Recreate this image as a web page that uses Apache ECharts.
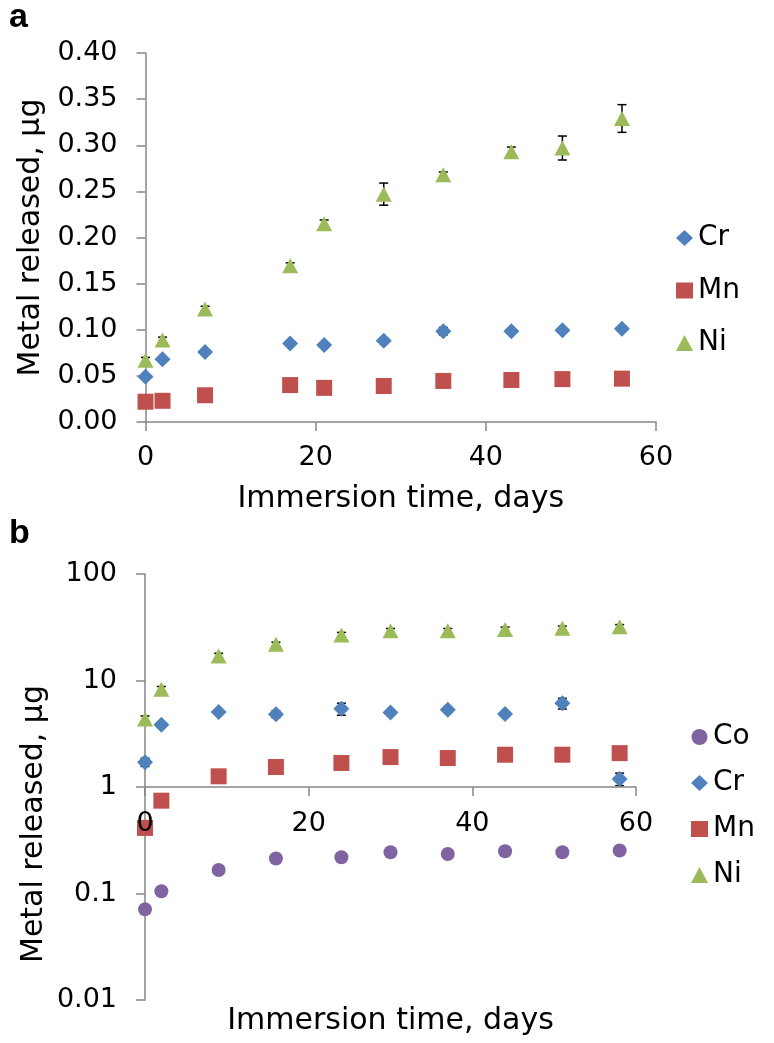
<!DOCTYPE html>
<html>
<head>
<meta charset="utf-8">
<script src="https://cdn.jsdelivr.net/npm/echarts@6/dist/echarts.min.js"></script>
<style>
html,body{margin:0;padding:0;background:#fff;}
#chart{width:774px;height:1043px;}
</style>
</head>
<body>
<div id="chart"></div>
<script>
// ---------- data ----------
const xTicks = [0, 20, 40, 60];
const yTicksA = [0, 0.05, 0.10, 0.15, 0.20, 0.25, 0.30, 0.35, 0.40];
const yTicksB = [0.01, 0.1, 1, 10, 100];

// panel a
const daysA = [0, 2, 7, 17, 21, 28, 35, 43, 49, 56];
const crA   = [0.049, 0.068, 0.076, 0.085, 0.0835, 0.088, 0.0985, 0.0985, 0.0995, 0.101];
const crErrA= [0.002, 0.002, 0.002, 0.002, 0.002, 0.003, 0.004, 0.002, 0.002, 0.002];
const mnA   = [0.022, 0.023, 0.029, 0.040, 0.037, 0.039, 0.0445, 0.0455, 0.0465, 0.047];
const mnErrA= [0.001, 0.001, 0.001, 0.001, 0.001, 0.001, 0.001, 0.001, 0.001, 0.001];
const niA   = [0.067, 0.089, 0.1225, 0.1695, 0.215, 0.247, 0.268, 0.293, 0.297, 0.329];
const niErrA= [0.003, 0.003, 0.003, 0.003, 0.004, 0.012, 0.003, 0.005, 0.013, 0.015];

// panel b
const daysB = [0, 2, 9, 16, 24, 30, 37, 44, 51, 58];
const coB   = [0.071, 0.105, 0.166, 0.213, 0.219, 0.244, 0.235, 0.249, 0.244, 0.253];
const coErrB= [0.004, 0.005, 0.006, 0.008, 0.008, 0.008, 0.008, 0.008, 0.008, 0.008];
const crB   = [1.71, 3.84, 5.05, 4.83, 5.42, 5.0, 5.3, 4.85, 6.1, 1.19];
const crErrB= [0.15, 0.2, 0.2, 0.35, 0.7, 0.2, 0.3, 0.25, 0.7, 0.16];
const mnB   = [0.413, 0.744, 1.26, 1.54, 1.68, 1.91, 1.87, 2.01, 2.01, 2.08];
const mnErrB= [0.02, 0.03, 0.05, 0.05, 0.06, 0.06, 0.06, 0.06, 0.06, 0.06];
const niB   = [4.34, 8.28, 17.0, 21.9, 26.8, 29.3, 29.3, 30.2, 30.9, 32.0];
const niErrB= [0.3, 0.5, 1.0, 1.0, 1.5, 1.5, 1.5, 1.5, 1.5, 1.5];

// ---------- styles ----------
const FONT = 'DejaVu Sans';
const FS_TICK = 27, FS_TITLE = 30, FS_LEG = 28;
const AXC = '#868686';
const COL = {Co:'#8064A2', Cr:'#4F81BD', Mn:'#C0504D', Ni:'#9BBB59'};

function pts(xs, ys){ return xs.map((x,i)=>[x, ys[i]]); }
function errs(xs, ys, es){ return xs.map((x,i)=>[x, ys[i]-es[i], ys[i]+es[i]]); }

function errRender(params, api){
  const x = api.value(0), lo = api.value(1), hi = api.value(2);
  const t = api.coord([x, hi]);
  const b = api.coord([x, lo]);
  const w = 4.5;
  const st = {stroke:'#000', lineWidth:1.5};
  return {type:'group', children:[
    {type:'line', shape:{x1:t[0], y1:t[1], x2:b[0], y2:b[1]}, style:st},
    {type:'line', shape:{x1:t[0]-w, y1:t[1], x2:t[0]+w, y2:t[1]}, style:st},
    {type:'line', shape:{x1:b[0]-w, y1:b[1], x2:b[0]+w, y2:b[1]}, style:st}
  ]};
}
function errSeries(xi, yi, data){
  return {type:'custom', xAxisIndex:xi, yAxisIndex:yi, data:data, renderItem:errRender,
    encode:{x:0, y:[1,2]}, z:1, silent:true, legendHoverLink:false};
}
const SYM = {
  Co:{symbol:'circle', symbolSize:14},
  Cr:{symbol:'diamond', symbolSize:16},
  Mn:{symbol:'rect', symbolSize:16},
  Ni:{symbol:'triangle', symbolSize:[16,15]}
};
function scat(name, xi, yi, data){
  return Object.assign({type:'scatter', name:name, xAxisIndex:xi, yAxisIndex:yi, data:data,
    itemStyle:{color:COL[name], opacity:1}, z:2}, SYM[name]);
}

const lineSt = {color:AXC, width:1.5};
const tickTxt = {fontFamily:FONT, fontSize:FS_TICK, color:'#000'};
const titleTxt = {fontFamily:FONT, fontSize:FS_TITLE, color:'#000'};
const legTxt = {fontFamily:FONT, fontSize:FS_LEG, color:'#000', lineHeight:30};

const option = {
  animation:false,
  backgroundColor:'#fff',
  textStyle:{fontFamily:FONT},
  grid:[
    {left:145.5, width:510.5, top:53, height:369},
    {left:145, width:491, top:574, height:426},
    {left:145, width:491, top:574, height:213}
  ],
  xAxis:[
    {gridIndex:0, type:'value', min:xTicks[0], max:xTicks[xTicks.length-1], interval:20,
      axisLine:{show:true, onZero:false, lineStyle:lineSt},
      axisTick:{show:true, length:9, lineStyle:lineSt},
      axisLabel:Object.assign({margin:22}, tickTxt),
      splitLine:{show:false},
      name:'Immersion time, days', nameLocation:'middle', nameGap:62,
      nameTextStyle:titleTxt},
    {gridIndex:1, type:'value', min:xTicks[0], max:xTicks[xTicks.length-1], interval:20,
      axisLine:{show:false, onZero:false}, axisTick:{show:false}, axisLabel:{show:false},
      splitLine:{show:false},
      name:'Immersion time, days', nameLocation:'middle', nameGap:6,
      nameTextStyle:titleTxt},
    {gridIndex:2, type:'value', min:xTicks[0], max:xTicks[xTicks.length-1], interval:20, z:5,
      axisLine:{show:true, onZero:false, lineStyle:lineSt},
      axisTick:{show:true, length:9, lineStyle:lineSt},
      axisLabel:Object.assign({margin:23}, tickTxt),
      splitLine:{show:false}}
  ],
  yAxis:[
    {gridIndex:0, type:'value', min:yTicksA[0], max:yTicksA[yTicksA.length-1], interval:0.05,
      axisLine:{show:true, onZero:false, lineStyle:lineSt},
      axisTick:{show:true, length:9, lineStyle:lineSt},
      axisLabel:Object.assign({margin:28, formatter:(v)=>v.toFixed(2)}, tickTxt),
      splitLine:{show:false},
      name:'Metal released, μg', nameLocation:'middle', nameGap:96, nameRotate:90,
      nameTextStyle:titleTxt},
    {gridIndex:1, type:'log', logBase:10, min:yTicksB[0], max:yTicksB[yTicksB.length-1], splitNumber:4,
      axisLine:{show:true, onZero:false, lineStyle:lineSt},
      axisTick:{show:true, length:9, lineStyle:lineSt},
      axisLabel:Object.assign({margin:28, formatter:(v)=>{
        let best = yTicksB[0];
        yTicksB.forEach(t=>{ if (Math.abs(Math.log10(t)-Math.log10(v)) < Math.abs(Math.log10(best)-Math.log10(v))) best = t; });
        return String(best);
      }}, tickTxt),
      splitLine:{show:false}},
    {gridIndex:2, type:'value', min:0, max:1, show:false}
  ],
  legend:[
    {orient:'vertical', left:671, top:218, itemWidth:17, itemHeight:16, itemGap:22.5, itemTextGap:10,
      data:['Cr','Mn','Ni'], selectedMode:false, textStyle:legTxt},
    {orient:'vertical', left:686, top:717, itemWidth:17, itemHeight:16, itemGap:16, itemTextGap:10,
      data:['Co','Cr','Mn','Ni'], selectedMode:false, textStyle:legTxt}
  ],
  graphic:[
    {type:'text', x:9, y:18, style:{text:'a', font:'bold 34px "Liberation Sans", Arial, sans-serif', fill:'#000', verticalAlign:'middle'}},
    {type:'text', x:9, y:534, style:{text:'b', font:'bold 34px "Liberation Sans", Arial, sans-serif', fill:'#000', verticalAlign:'middle'}},
    {type:'text', x:34, y:824, rotation:Math.PI/2,
      style:{text:'Metal released, μg', font:FS_TITLE+'px "'+FONT+'"', fill:'#000', align:'center', verticalAlign:'middle'}}
  ],
  series:[
    errSeries(0,0, errs(daysA, crA, crErrA)),
    errSeries(0,0, errs(daysA, mnA, mnErrA)),
    errSeries(0,0, errs(daysA, niA, niErrA)),
    scat('Cr',0,0, pts(daysA, crA)),
    scat('Mn',0,0, pts(daysA, mnA)),
    scat('Ni',0,0, pts(daysA, niA)),
    errSeries(1,1, errs(daysB, coB, coErrB)),
    errSeries(1,1, errs(daysB, crB, crErrB)),
    errSeries(1,1, errs(daysB, mnB, mnErrB)),
    errSeries(1,1, errs(daysB, niB, niErrB)),
    scat('Co',1,1, pts(daysB, coB)),
    scat('Cr',1,1, pts(daysB, crB)),
    scat('Mn',1,1, pts(daysB, mnB)),
    scat('Ni',1,1, pts(daysB, niB))
  ]
};
const chart = echarts.init(document.getElementById('chart'), null, {renderer:'canvas'});
chart.setOption(option);
</script>
</body>
</html>
